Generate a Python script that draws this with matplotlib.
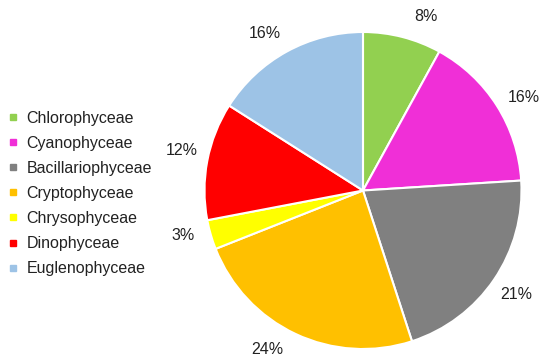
import matplotlib
matplotlib.use("Agg")
import numpy as np
import matplotlib.pyplot as plt
from matplotlib.lines import Line2D

categories = ["Chlorophyceae", "Cyanophyceae", "Bacillariophyceae", "Cryptophyceae",
              "Chrysophyceae", "Dinophyceae", "Euglenophyceae"]
values = [8, 16, 21, 24, 3, 12, 16]
colors = ["#92D050", "#F02FD7", "#808080", "#FFC000", "#FFFF00", "#FF0000", "#9DC3E6"]

# small angular nudges (degrees) for label placement, mimicking the original layout
label_nudge = [-5.6, -2.4, 0.0, -5.8, -2.2, -1.7, 3.2]

plt.rcParams['font.family'] = ['Liberation Sans', 'DejaVu Sans']

W, H = 550, 363
fig = plt.figure(figsize=(W / 100, H / 100), dpi=100)
cx, cy, r = 363, 190.5, 158.5
ax = fig.add_axes([(cx - r) / W, (H - cy - r) / H, 2 * r / W, 2 * r / H])

wedges, _ = ax.pie(values, colors=colors, startangle=90, counterclock=False,
                   radius=1.0, wedgeprops=dict(edgecolor="white", linewidth=1.5))
ld = 1.17
for w, v, nd in zip(wedges, values, label_nudge):
    mid = np.deg2rad((w.theta1 + w.theta2) / 2 + nd)
    ax.text(ld * np.cos(mid), ld * np.sin(mid), f"{v}%", ha="center", va="center",
            fontsize=11.5, color="#222222")
ax.set_xlim(-1, 1)
ax.set_ylim(-1, 1)
ax.set_aspect("auto")
ax.axis("off")

handles = [Line2D([0], [0], marker="s", linestyle="none", markersize=5,
                  markerfacecolor=c, markeredgecolor=c) for c in colors]
fig.legend(handles, categories, loc="upper left", bbox_to_anchor=(0.0, (H - 106) / H),
           frameon=False, fontsize=11.5, handletextpad=0.35, labelspacing=0.63,
           handlelength=1.0, borderaxespad=0.0, borderpad=0.3, labelcolor="#222222")

fig.savefig("out.png", dpi=100)
